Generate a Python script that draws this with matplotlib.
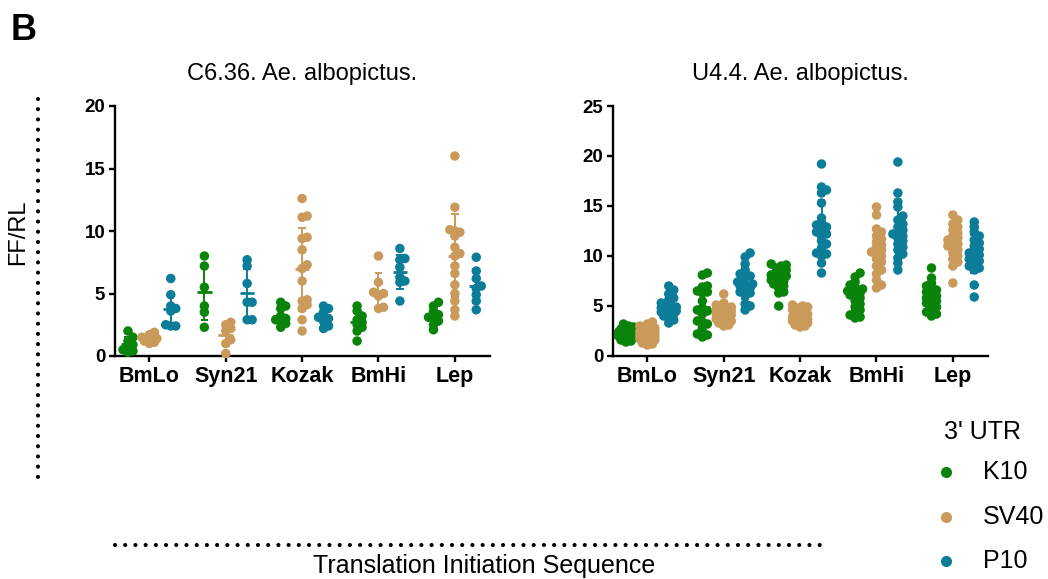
import numpy as np
import matplotlib
matplotlib.use("Agg")
import matplotlib.pyplot as plt
from matplotlib.lines import Line2D

plt.rcParams['font.family'] = ['Liberation Sans', 'DejaVu Sans']

# ---------------------------------------------------------------- data
categories = ["BmLo", "Syn21", "Kozak", "BmHi", "Lep"]
utr_names = ["K10", "SV40", "P10"]
utr_colors = ["#0A830A", "#C99A5A", "#0B7D99"]

# C6/36 cells: FF/RL ratio per construct (K10, SV40, P10 3' UTR)
c636_k10 = [
    [2.0, 1.5, 1.2, 0.9, 0.7, 0.5, 0.4, 0.3],
    [8.0, 7.2, 5.5, 4.0, 3.5, 2.3],
    [4.3, 4.0, 3.8, 3.2, 3.0, 2.9, 2.8, 2.6, 2.3],
    [4.0, 3.6, 3.2, 2.9, 2.7, 2.5, 2.3, 2.0, 1.2],
    [4.3, 4.0, 3.6, 3.3, 3.1, 3.0, 2.8, 2.5, 2.1],
]
c636_sv40 = [
    [1.9, 1.7, 1.5, 1.4, 1.3, 1.2, 1.1, 1.0],
    [2.7, 2.5, 2.2, 2.0, 1.3, 1.0, 0.2],
    [12.6, 11.2, 11.1, 9.5, 9.4, 8.5, 7.3, 7.0, 6.0, 4.5, 4.4, 4.1, 3.8, 2.9, 2.0],
    [8.0, 5.9, 5.1, 5.0, 4.8, 3.9, 3.8],
    [16.0, 11.9, 10.1, 10.0, 9.9, 9.6, 8.7, 8.2, 8.0, 7.2, 6.6, 5.7, 5.0, 4.4, 3.7, 3.2],
]
c636_p10 = [
    [6.2, 4.9, 4.0, 3.8, 3.6, 2.5, 2.4, 2.4],
    [7.7, 7.2, 5.8, 4.3, 4.3, 2.9, 2.9],
    [4.0, 3.8, 3.5, 3.1, 3.0, 2.8, 2.4, 2.2],
    [8.6, 7.8, 7.7, 7.1, 6.3, 6.0, 5.9, 4.4],
    [7.9, 6.8, 6.2, 5.6, 5.4, 4.9, 4.4, 3.7],
]

# U4.4 cells
u44_k10 = [
    [3.2, 3.0, 2.9, 2.7, 2.6, 2.5, 2.4, 2.3, 2.2, 2.2, 2.1, 2.1, 2.0, 2.0, 1.9, 1.8, 1.7, 1.6, 1.5, 1.4],
    [8.3, 8.1, 7.0, 6.9, 6.5, 6.4, 6.3, 5.5, 4.8, 4.6, 4.5, 4.2, 3.5, 3.4, 3.2, 2.8, 2.2, 2.1, 1.9],
    [9.2, 9.1, 9.0, 8.8, 8.6, 8.5, 8.3, 8.1, 8.0, 7.9, 7.8, 7.6, 7.5, 7.4, 7.2, 7.0, 6.8, 6.4, 6.3, 5.0],
    [8.3, 7.9, 7.4, 7.1, 6.9, 6.7, 6.5, 6.4, 6.3, 6.1, 6.0, 5.8, 5.5, 5.2, 4.9, 4.6, 4.3, 4.1, 3.9, 3.8],
    [8.8, 7.8, 7.3, 7.0, 6.8, 6.6, 6.4, 6.2, 6.0, 5.8, 5.6, 5.5, 5.3, 5.1, 4.9, 4.6, 4.4, 4.2, 4.0],
]
u44_sv40 = [
    [3.4, 3.2, 3.0, 2.8, 2.7, 2.6, 2.5, 2.4, 2.3, 2.2, 2.1, 2.0, 1.9, 1.8, 1.7, 1.6, 1.5, 1.3, 1.2, 1.1],
    [6.2, 5.3, 5.1, 4.9, 4.8, 4.7, 4.6, 4.5, 4.4, 4.3, 4.2, 4.1, 3.9, 3.8, 3.7, 3.5, 3.4, 3.3, 3.1, 3.0],
    [5.1, 5.0, 4.9, 4.8, 4.6, 4.5, 4.3, 4.2, 4.0, 3.9, 3.8, 3.7, 3.6, 3.5, 3.4, 3.3, 3.2, 3.1, 3.0, 2.9],
    [14.9, 14.1, 12.7, 12.4, 12.0, 11.7, 11.4, 11.1, 10.9, 10.6, 10.4, 10.2, 10.0, 9.7, 9.4, 9.0, 8.6, 8.2, 7.6, 7.1, 6.8],
    [14.1, 13.6, 13.2, 12.9, 12.6, 12.3, 12.0, 11.8, 11.6, 11.4, 11.2, 11.0, 10.8, 10.6, 10.3, 10.0, 9.7, 9.4, 9.0, 7.3],
]
u44_p10 = [
    [7.0, 6.6, 6.2, 5.8, 5.6, 5.3, 5.1, 5.0, 4.9, 4.8, 4.7, 4.6, 4.5, 4.4, 4.3, 4.2, 4.0, 3.8, 3.6, 3.3],
    [10.3, 9.9, 9.2, 8.6, 8.2, 8.0, 7.8, 7.4, 7.2, 7.1, 7.0, 6.8, 6.6, 6.4, 6.3, 6.1, 5.2, 5.0, 4.6],
    [19.2, 16.9, 16.6, 16.3, 15.3, 13.8, 13.3, 13.1, 12.9, 12.7, 12.4, 12.2, 12.0, 11.5, 11.2, 10.8, 10.3, 10.2, 10.0, 9.3, 8.3],
    [19.4, 16.3, 15.4, 14.9, 14.0, 13.6, 13.2, 12.9, 12.6, 12.4, 12.2, 12.0, 11.8, 11.5, 11.2, 10.9, 10.6, 10.2, 9.8, 9.3, 8.6],
    [13.4, 12.9, 12.4, 12.0, 11.6, 11.3, 11.0, 10.7, 10.5, 10.3, 10.1, 9.9, 9.7, 9.5, 9.3, 9.0, 8.8, 8.6, 7.1, 5.9],
]

panels = [
    ("C6.36. Ae. albopictus.", [c636_k10, c636_sv40, c636_p10], 20),
    ("U4.4. Ae. albopictus.", [u44_k10, u44_sv40, u44_p10], 25),
]

# ---------------------------------------------------------------- layout
W, H = 1048, 579
fig = plt.figure(figsize=(W / 100, H / 100), dpi=100)

group_offsets = [-0.28, 0.0, 0.28]
dot_px = 9.5
dot_s = (dot_px * 72 / 100) ** 2


def swarm(ax, center, values, min_px=5.0, max_px=9.0):
    """Horizontal offsets (data units) for a compact beeswarm column."""
    t = ax.transData
    x_scale = t.transform((1, 0))[0] - t.transform((0, 0))[0]
    ys = np.array([t.transform((center, v))[1] for v in values])
    order = np.argsort(ys)
    placed = []
    offs = np.zeros(len(values))
    steps = [0.0]
    k = 1
    while k * min_px * 0.5 <= max_px:
        steps += [k * min_px * 0.5, -k * min_px * 0.5]
        k += 1
    for i in order:
        best, best_d = 0.0, -1
        for s in steps:
            d = min([np.hypot(s - px, ys[i] - py) for px, py in placed] or [1e9])
            if d >= min_px:
                best = s
                break
            if d > best_d:
                best, best_d = s, d
        offs[i] = best
        placed.append((best, ys[i]))
    return offs / x_scale


axes_boxes = [(115, 106, 490, 356), (613, 106, 988, 356)]
for (title, series, ymax), (x0, y0, x1, y1) in zip(panels, axes_boxes):
    ax = fig.add_axes([x0 / W, 1 - y1 / H, (x1 - x0) / W, (y1 - y0) / H])
    ax.set_xlim(-0.45, 4.46)
    ax.set_ylim(0, ymax)
    for side in ("top", "right"):
        ax.spines[side].set_visible(False)
    for side in ("left", "bottom"):
        ax.spines[side].set_linewidth(1.7)
    ax.tick_params(axis="both", direction="out", length=4.5, width=1.7, pad=2.5)
    ax.set_yticks(np.arange(0, ymax + 1, 5))
    ax.set_yticklabels([str(v) for v in range(0, ymax + 1, 5)],
                       fontsize=13.5, fontweight="bold")
    ax.set_xticks(range(len(categories)))
    ax.set_xticklabels(categories, fontsize=15.5, fontweight="bold")
    ax.set_title(title, fontsize=17, pad=19)

    for gi, (vals_by_cat, col) in enumerate(zip(series, utr_colors)):
        for ci, vals in enumerate(vals_by_cat):
            vals = np.asarray(vals, dtype=float)
            cx = ci + group_offsets[gi]
            offs = swarm(ax, cx, vals)
            ax.scatter(cx + offs, vals, s=dot_s, color=col, edgecolors="none",
                       zorder=3, clip_on=False)
            m = vals.mean()
            sd = vals.std(ddof=1)
            ax.plot([cx - 0.095, cx + 0.095], [m, m], color=col, lw=2.0,
                    zorder=4, solid_capstyle="butt")
            ax.plot([cx, cx], [m - sd, m + sd], color=col, lw=1.4, zorder=4)
            for yy in (m - sd, m + sd):
                ax.plot([cx - 0.05, cx + 0.05], [yy, yy], color=col, lw=1.4,
                        zorder=4, solid_capstyle="butt")

# ---------------------------------------------------------------- decorations
fig.text(11 / W, 1 - 31 / H, "B", fontsize=26, fontweight="bold",
         ha="left", va="center")
fig.text(18 / W, 1 - 232 / H, "FF/RL", fontsize=17, rotation=90,
         ha="center", va="center")
fig.text(484 / W, 1 - 566 / H, "Translation Initiation Sequence",
         fontsize=18, ha="center", va="center")

dot_style = dict(color="black", lw=3.0, dash_capstyle="round",
                 linestyle=(0, (0.001, 2.45)), transform=fig.transFigure)
fig.add_artist(Line2D([38 / W, 38 / W], [1 - 99 / H, 1 - 485 / H], **dot_style))
fig.add_artist(Line2D([115 / W, 827 / W], [1 - 545 / H, 1 - 545 / H], **dot_style))

# legend
fig.text(983 / W, 1 - 432 / H, "3' UTR", fontsize=18, ha="center", va="center")
for name, col, yy in zip(utr_names, utr_colors, [472, 517, 561]):
    fig.add_artist(Line2D([946 / W], [1 - yy / H], marker="o", markersize=8.0,
                          color=col, markeredgewidth=0, linestyle="none",
                          transform=fig.transFigure))
    fig.text(983 / W, 1 - yy / H, name, fontsize=18, ha="left", va="center")

fig.savefig("out.png", dpi=100)
